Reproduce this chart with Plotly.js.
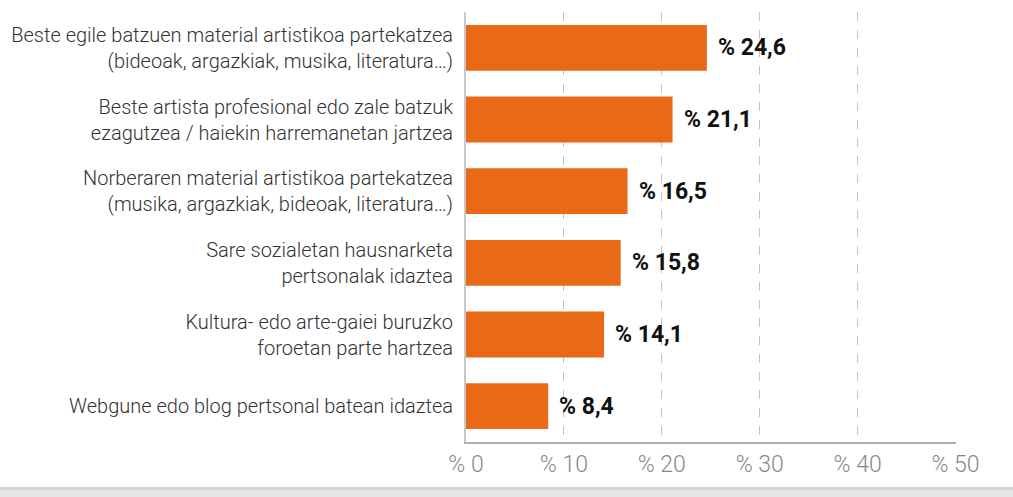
<!DOCTYPE html>
<html>
<head>
<meta charset="utf-8">
<script src="https://cdn.plot.ly/plotly-3.0.1.min.js"></script>
<style>html,body{margin:0;padding:0;background:#fff;}#chart{width:1013px;height:497px;}</style>
</head>
<body>
<div id="chart"></div>
<script>
const categories = [
  "Beste egile batzuen material artistikoa partekatzea<br>(bideoak, argazkiak, musika, literatura…)",
  "Beste artista profesional edo zale batzuk<br>ezagutzea / haiekin harremanetan jartzea",
  "Norberaren material artistikoa partekatzea<br>(musika, argazkiak, bideoak, literatura…)",
  "Sare sozialetan hausnarketa<br>pertsonalak idaztea",
  "Kultura- edo arte-gaiei buruzko<br>foroetan parte hartzea",
  "Webgune edo blog pertsonal batean idaztea"
];
const values = [24.6, 21.1, 16.5, 15.8, 14.1, 8.4];
const tickValues = [0, 10, 20, 30, 40, 50];
const tickLabels = ["% 0", "% 10", "% 20", "% 30", "% 40", "% 50"];

const W = 1013, H = 497;
const M = {l: 466, r: 57, t: 12, b: 55};
const pw = W - M.l - M.r, ph = H - M.t - M.b;
const LIGHT = '"Roboto Light", Roboto';

const trace = {
  type: 'bar',
  orientation: 'h',
  y: categories,
  x: values,
  marker: {color: '#E96916'},
  hoverinfo: 'none'
};

const annotations = values.map((v, i) => ({
  x: v, y: categories[i], xref: 'x', yref: 'y',
  text: '% ' + v.toFixed(1).replace('.', ','),
  showarrow: false, xanchor: 'left', yanchor: 'middle', xshift: 9,
  font: {family: 'Roboto', size: 23, color: '#111', weight: 700}
}));

const layout = {
  width: W, height: H,
  margin: M,
  paper_bgcolor: '#fff', plot_bgcolor: '#fff',
  showlegend: false,
  bargap: 0.36,
  font: {family: LIGHT, color: '#333'},
  xaxis: {
    range: [0, 50.05],
    tickvals: tickValues, ticktext: tickLabels,
    showgrid: true, gridcolor: '#c4c4c4', griddash: 'dash', gridwidth: 1,
    zeroline: false,
    showline: true, linecolor: '#b0b0b0', linewidth: 2,
    ticks: '', ticklabelstandoff: 0,
    tickfont: {family: LIGHT, size: 23, color: '#888', weight: 300},
    fixedrange: true
  },
  yaxis: {
    autorange: 'reversed',
    showgrid: false, zeroline: false,
    showline: true, linecolor: '#c8c8c8', linewidth: 2,
    ticks: '', ticklabelstandoff: 7,
    tickfont: {family: LIGHT, size: 20, color: '#333', weight: 300},
    fixedrange: true
  },
  annotations: annotations,
  shapes: [
    {type: 'rect', xref: 'paper', yref: 'paper', layer: 'below',
     x0: -M.l / pw, x1: (W - M.l) / pw,
     y0: -(H - M.t - ph) / ph, y1: -(488 - M.t - ph) / ph,
     fillcolor: '#e6e6e6', line: {width: 0}},
    {type: 'rect', xref: 'paper', yref: 'paper', layer: 'below',
     x0: -M.l / pw, x1: (W - M.l) / pw,
     y0: -(490 - M.t - ph) / ph, y1: -(487 - M.t - ph) / ph,
     fillcolor: '#d4d4d4', line: {width: 0}}
  ]
};

Plotly.newPlot('chart', [trace], layout, {displayModeBar: false, staticPlot: true});
</script>
</body>
</html>
